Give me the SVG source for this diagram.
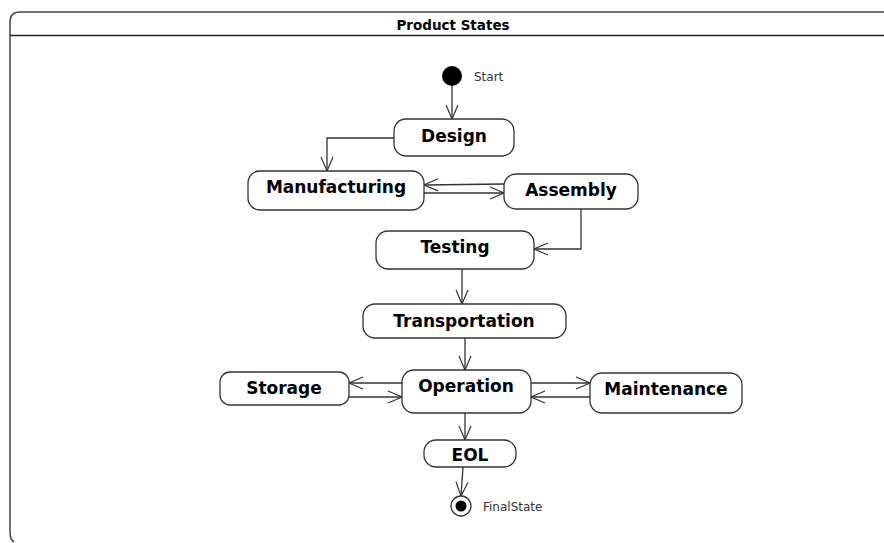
<svg xmlns="http://www.w3.org/2000/svg" width="884" height="543" viewBox="0 0 884 543">
<defs>
<marker id="arr" markerUnits="userSpaceOnUse" markerWidth="16" markerHeight="14" refX="15" refY="7" orient="auto">
<path d="M1,1 L15,7 L1,13" fill="none" stroke="#333" stroke-width="1.2"/>
</marker>
<style>
.st{fill:#fff;stroke:#333;stroke-width:1.3}
.lb{font-family:"DejaVu Sans",Verdana,sans-serif;font-weight:bold;font-size:17px;fill:#000;text-anchor:middle}
.sm{font-family:"DejaVu Sans",Verdana,sans-serif;font-size:12px;fill:#333}
.cn{fill:none;stroke:#333;stroke-width:1.3;marker-end:url(#arr)}
</style>
</defs>
<rect width="884" height="543" fill="#fff"/>
<g id="frame">
<path d="M890,12 L20,12 Q10,12 10,22 L10,532 Q10,540 14,542" fill="none" stroke="#444" stroke-width="1.5"/>
<line x1="10" y1="35.5" x2="890" y2="35.5" stroke="#222" stroke-width="1.5"/>
<text x="453" y="30" font-family="'DejaVu Sans',Verdana,sans-serif" font-weight="bold" font-size="13.5" text-anchor="middle" fill="#000">Product States</text>
</g>
<g id="connectors">
<line class="cn" x1="452" y1="86" x2="452" y2="119"/>
<polyline class="cn" points="394,138 327,138 327,171"/>
<line class="cn" x1="504" y1="184" x2="424" y2="185"/>
<line class="cn" x1="424" y1="193" x2="504" y2="193"/>
<polyline class="cn" points="581,209 581,249 534,249"/>
<line class="cn" x1="462" y1="269" x2="462" y2="304"/>
<line class="cn" x1="465" y1="338" x2="465" y2="370"/>
<line class="cn" x1="402" y1="383" x2="349" y2="383"/>
<line class="cn" x1="349" y1="397" x2="402" y2="397"/>
<line class="cn" x1="531" y1="383" x2="590" y2="383"/>
<line class="cn" x1="590" y1="397" x2="531" y2="397"/>
<line class="cn" x1="465" y1="413" x2="465" y2="440"/>
<line class="cn" x1="463" y1="467" x2="461" y2="496"/>
</g>
<g id="start">
<circle cx="452" cy="76" r="10" fill="#000"/>
<text class="sm" x="474" y="81">Start</text>
</g>
<g id="design">
<rect class="st" x="394" y="119" width="120" height="37" rx="12"/>
<text class="lb" x="454" y="142">Design</text>
</g>
<g id="manufacturing">
<rect class="st" x="248" y="171" width="176" height="39" rx="12"/>
<text class="lb" x="336" y="193">Manufacturing</text>
</g>
<g id="assembly">
<rect class="st" x="504" y="174" width="134" height="35" rx="12"/>
<text class="lb" x="571" y="196">Assembly</text>
</g>
<g id="testing">
<rect class="st" x="376" y="231" width="158" height="38" rx="12"/>
<text class="lb" x="455" y="253">Testing</text>
</g>
<g id="transportation">
<rect class="st" x="363" y="304" width="203" height="34" rx="12"/>
<text class="lb" x="464" y="327">Transportation</text>
</g>
<g id="storage">
<rect class="st" x="220" y="372" width="129" height="33" rx="10"/>
<text class="lb" x="284" y="394">Storage</text>
</g>
<g id="operation">
<rect class="st" x="402" y="370" width="129" height="43" rx="12"/>
<text class="lb" x="466" y="392">Operation</text>
</g>
<g id="maintenance">
<rect class="st" x="590" y="373" width="152" height="40" rx="12"/>
<text class="lb" x="666" y="395">Maintenance</text>
</g>
<g id="eol">
<rect class="st" x="424" y="440" width="92" height="27" rx="12"/>
<text class="lb" x="470" y="461">EOL</text>
</g>
<g id="final">
<circle cx="461" cy="506" r="10" fill="#fff" stroke="#333" stroke-width="1.3"/>
<circle cx="461" cy="506" r="5.5" fill="#000"/>
<text class="sm" x="483" y="511">FinalState</text>
</g>
</svg>
